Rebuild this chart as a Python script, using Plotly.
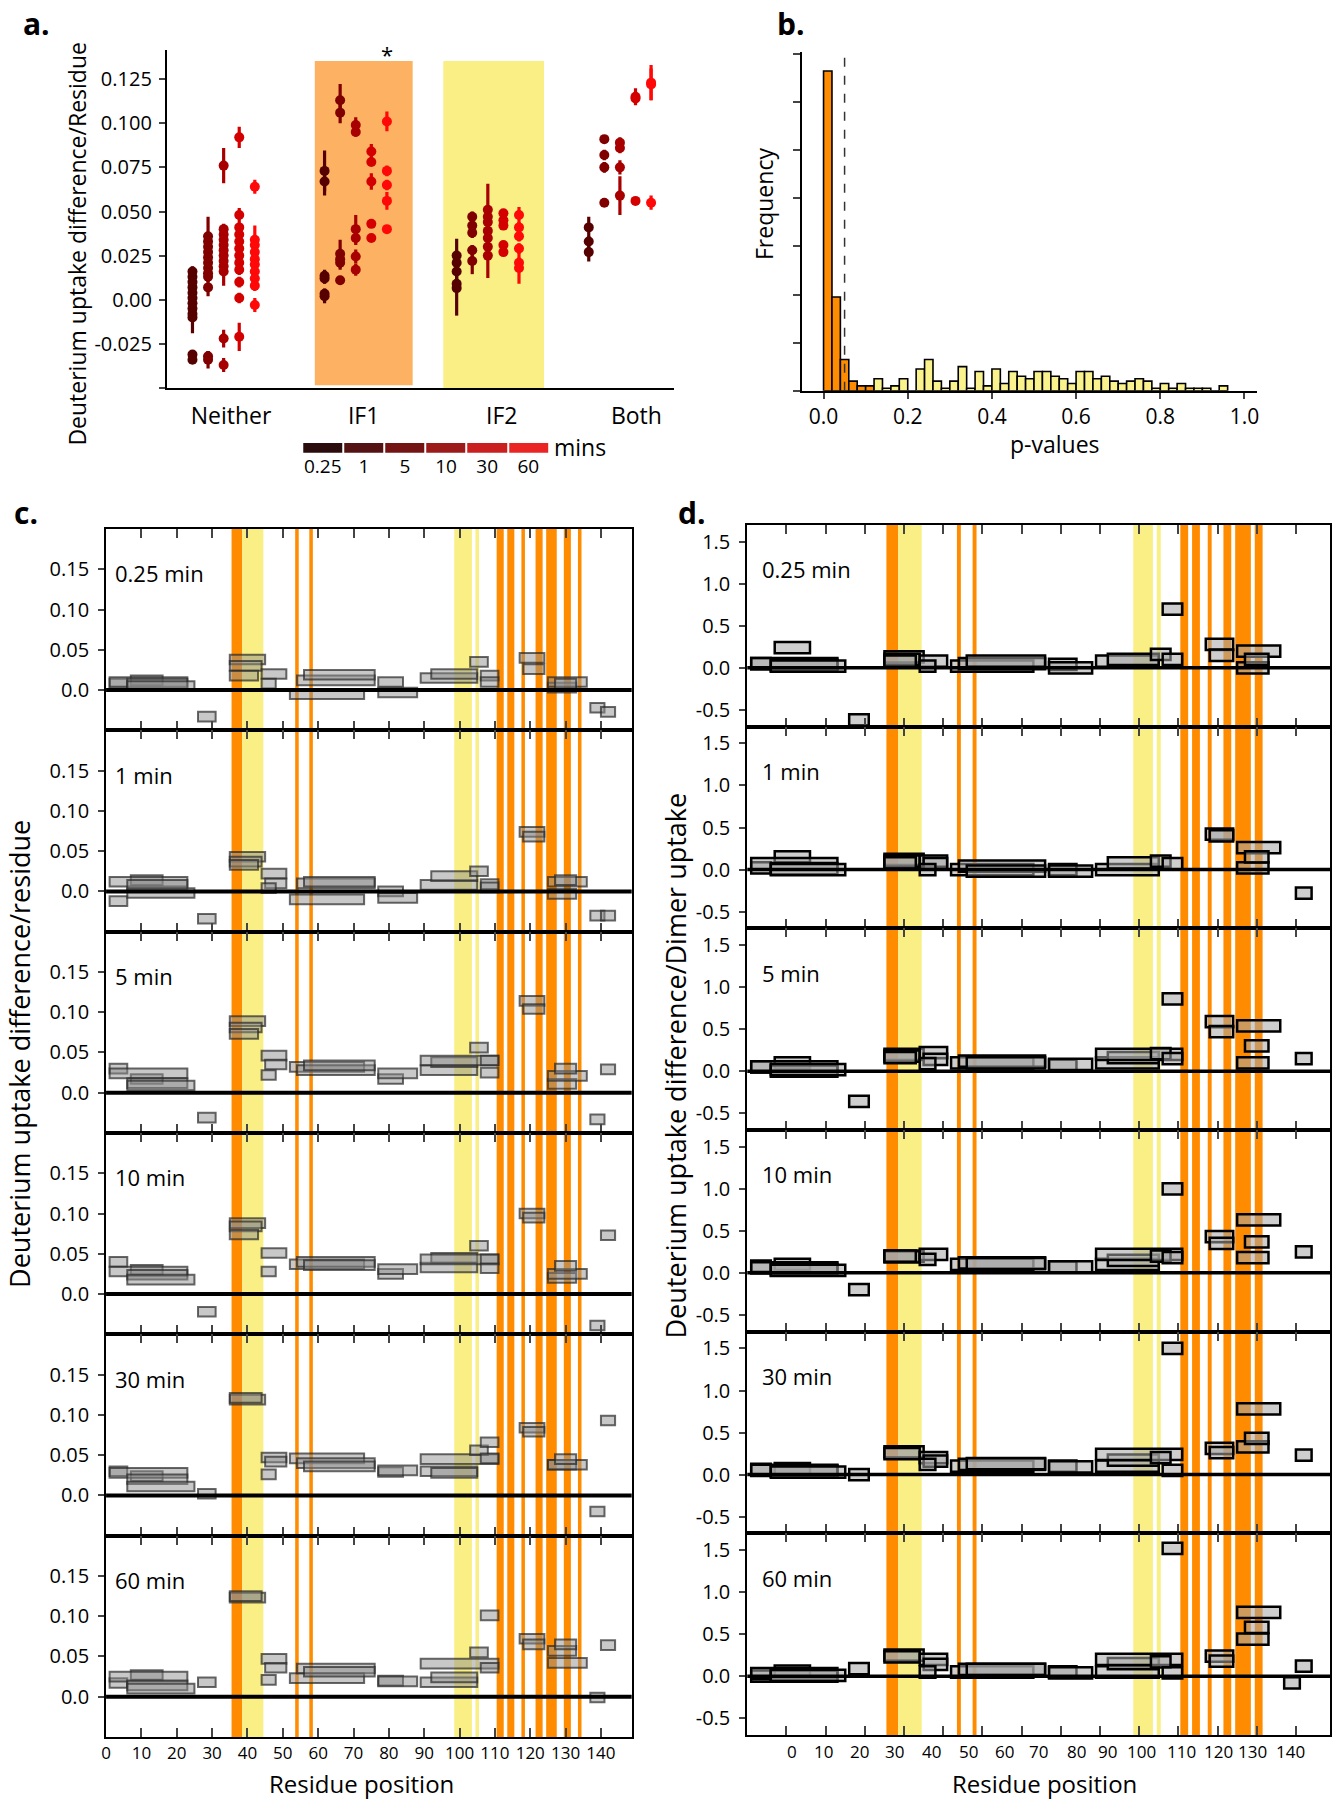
import plotly.graph_objects as go

W, H = 1335, 1800
FONT = "Open Sans"


def fx(px):
    return px / W


def fy(py):
    return 1 - py / H


# ---------------- Panel a data ----------------
categories = ["Neither", "IF1", "IF2", "Both"]
legend_times = ["0.25", "1", "5", "10", "30", "60"]
column_colors = ["#560000", "#800000", "#a80000", "#d40000", "#ff0808"]
legend_colors = ["#2a0c0c", "#551212", "#731313", "#9c1a1a", "#c91f1f", "#ea2323"]

neither_vals = [
    [0.016, 0.013, 0.010, 0.007, 0.004, 0.001, -0.002, -0.005, -0.008, -0.010, -0.031, -0.034],
    [0.036, 0.033, 0.030, 0.027, 0.024, 0.021, 0.018, 0.015, 0.013, 0.007, -0.032, -0.034],
    [0.076, 0.040, 0.037, 0.034, 0.031, 0.028, 0.025, 0.022, 0.019, 0.016, -0.022, -0.037],
    [0.092, 0.048, 0.041, 0.037, 0.033, 0.029, 0.025, 0.021, 0.017, 0.010, 0.001, -0.021],
    [0.064, 0.034, 0.031, 0.027, 0.023, 0.020, 0.016, 0.012, 0.008, -0.003],
]
neither_errs = [
    [0.003, 0.002, 0.002, 0.002, 0.002, 0.002, 0.002, 0.002, 0.003, 0.009, 0.002, 0.002],
    [0.011, 0.003, 0.003, 0.003, 0.003, 0.003, 0.003, 0.003, 0.003, 0.005, 0.003, 0.005],
    [0.010, 0.003, 0.003, 0.003, 0.003, 0.003, 0.003, 0.003, 0.003, 0.008, 0.005, 0.004],
    [0.006, 0.004, 0.003, 0.003, 0.003, 0.003, 0.003, 0.003, 0.003, 0.003, 0.003, 0.008],
    [0.004, 0.008, 0.003, 0.003, 0.003, 0.003, 0.003, 0.003, 0.003, 0.004],
]
if1_vals = [
    [0.073, 0.067, 0.0136, 0.012, 0.0034, 0.002],
    [0.113, 0.106, 0.026, 0.023, 0.021, 0.011],
    [0.099, 0.095, 0.040, 0.035, 0.0245, 0.017],
    [0.084, 0.078, 0.067, 0.043, 0.035],
    [0.101, 0.073, 0.065, 0.056, 0.040],
]
if1_errs = [
    [0.0115, 0.008, 0.0034, 0.003, 0.003, 0.004],
    [0.0093, 0.006, 0.008, 0.004, 0.004, 0.0025],
    [0.0044, 0.0025, 0.008, 0.004, 0.004, 0.0034],
    [0.0043, 0.002, 0.0047, 0.002, 0.002],
    [0.0056, 0.003, 0.003, 0.005, 0.002],
]
if2_vals = [
    [0.025, 0.021, 0.016, 0.009, 0.0066],
    [0.047, 0.042, 0.038, 0.028, 0.022],
    [0.051, 0.047, 0.044, 0.039, 0.035, 0.030, 0.025],
    [0.049, 0.045, 0.042, 0.031, 0.027],
    [0.048, 0.041, 0.036, 0.029, 0.021, 0.018],
]
if2_errs = [
    [0.0095, 0.003, 0.003, 0.004, 0.0156],
    [0.003, 0.003, 0.003, 0.003, 0.0075],
    [0.0147, 0.003, 0.003, 0.003, 0.003, 0.003, 0.0127],
    [0.002, 0.002, 0.002, 0.002, 0.002],
    [0.0045, 0.003, 0.003, 0.003, 0.003, 0.009],
]
both_vals = [
    [0.041, 0.033, 0.027],
    [0.091, 0.082, 0.075, 0.055],
    [0.089, 0.086, 0.075, 0.059],
    [0.115, 0.114, 0.056],
    [0.123, 0.122, 0.055],
]
both_errs = [
    [0.006, 0.003, 0.0053],
    [0.002, 0.003, 0.003, 0.002],
    [0.003, 0.003, 0.004, 0.011],
    [0.0048, 0.003, 0.002],
    [0.010, 0.009, 0.004],
]

# ---------------- Panel b data ----------------
p_bin_left = [round(i * 0.02, 2) for i in range(48)]
p_counts = [133, 39, 13, 4, 2, 2, 5, 1, 2, 5, 0, 9, 13, 4, 1, 4, 10, 1, 8, 2, 9, 3, 8, 6,
            5, 8, 8, 6, 5, 3, 8, 8, 5, 6, 4, 3, 4, 5, 4, 1, 3, 1, 3, 1, 1, 1, 0, 2]
p_orange_below = 0.12
p_cutoff = 0.05

# ---------------- Panels c / d data ----------------
time_names = ["0.25 min", "1 min", "5 min", "10 min", "30 min", "60 min"]
pep_start = [1, 7, 1, 6, 6, 26, 35, 35, 35, 44, 45, 44, 52, 54, 56, 77, 77, 89, 92, 89,
             103, 106, 106, 117, 118, 125, 125, 127, 137, 140]
pep_end = [6, 16, 23, 23, 25, 31, 45, 44, 43, 51, 51, 48, 73, 76, 76, 84, 88, 105, 105, 111,
           108, 111, 111, 124, 124, 133, 136, 133, 141, 144]

c_t025 = [0.008, 0.012, 0.010, 0.008, 0.005, -0.033, 0.038, 0.030, 0.018, 0.020, None, 0.008,
          -0.005, 0.012, 0.019, 0.010, -0.003, 0.015, 0.020, None, 0.035, 0.018, 0.010, 0.040,
          0.026, 0.003, 0.010, 0.008, -0.022, -0.027]
c_t1 = [-0.012, 0.014, 0.012, 0.008, -0.002, -0.034, 0.043, 0.037, 0.033, 0.022, 0.010, 0.004,
        -0.010, 0.010, 0.012, 0.000, -0.008, 0.008, 0.019, None, 0.025, 0.009, 0.005, 0.074,
        0.068, -0.003, 0.012, 0.014, -0.030, -0.030]
c_t5 = [0.030, 0.017, 0.024, 0.012, 0.009, -0.031, 0.089, 0.081, 0.073, 0.046, 0.035, 0.022,
        0.032, 0.028, 0.034, 0.017, 0.024, 0.028, 0.038, 0.040, 0.056, 0.040, 0.025, 0.114,
        0.104, 0.011, 0.021, 0.030, -0.033, 0.029]
c_t10 = [0.040, 0.030, 0.028, 0.024, 0.018, -0.022, 0.088, 0.084, 0.074, 0.051, None, 0.028,
         0.037, 0.040, 0.036, 0.025, 0.031, 0.033, 0.045, 0.043, 0.060, 0.043, 0.032, 0.100,
         0.095, 0.020, 0.025, 0.035, -0.039, 0.073]
c_t30 = [0.030, 0.024, 0.028, 0.020, 0.011, 0.002, 0.119, 0.121, None, 0.047, 0.042, 0.026,
         0.046, 0.040, 0.036, 0.029, 0.031, 0.030, 0.028, 0.045, 0.056, 0.066, 0.046, 0.084,
         0.079, 0.038, 0.038, 0.045, -0.020, 0.093]
c_t60 = [0.017, 0.027, 0.025, 0.014, 0.010, 0.018, 0.123, 0.125, None, 0.047, 0.036, 0.021,
         0.023, 0.035, 0.031, 0.020, 0.019, 0.018, 0.024, 0.041, 0.055, 0.101, 0.036, 0.072,
         0.065, 0.057, 0.042, 0.065, -0.001, 0.064]

d_t025 = [0.05, 0.24, 0.05, 0.03, 0.02, -0.62, 0.13, 0.10, 0.08, 0.08, None, 0.02, 0.02, 0.05,
          0.08, 0.04, 0.0, 0.08, 0.10, None, 0.16, 0.70, 0.10, 0.28, 0.15, 0.0, 0.20, 0.10,
          None, None]
d_t1 = [0.02, 0.15, 0.07, 0.01, 0.0, None, 0.12, 0.10, 0.08, 0.10, 0.07, 0.0, 0.0, 0.04, -0.02,
        0.0, -0.02, 0.0, 0.08, None, 0.10, None, 0.07, 0.42, 0.40, 0.02, 0.26, 0.15, None, -0.28]
d_t5 = [0.05, 0.10, 0.05, 0.0, 0.02, -0.36, 0.20, 0.18, 0.16, 0.22, 0.14, 0.09, 0.10, 0.12,
        0.10, 0.07, 0.08, 0.10, 0.16, 0.20, 0.21, 0.86, 0.15, 0.59, 0.47, 0.10, 0.54, 0.30,
        None, 0.15]
d_t10 = [0.08, 0.10, 0.06, 0.04, 0.03, -0.20, 0.20, 0.19, 0.20, 0.22, None, 0.16, 0.10, 0.12,
         0.11, 0.07, 0.07, 0.10, 0.15, 0.22, 0.20, 1.00, 0.18, 0.43, 0.35, 0.18, 0.63, 0.37,
         None, 0.25]
d_t30 = [0.06, 0.07, 0.05, 0.04, 0.03, 0.0, 0.27, 0.25, None, 0.20, 0.16, 0.12, 0.10, 0.12,
         0.13, 0.10, 0.09, 0.10, 0.17, 0.24, 0.20, 1.50, 0.05, 0.31, 0.26, 0.33, 0.78, 0.43,
         None, 0.23]
d_t60 = [0.0, 0.06, 0.03, 0.0, 0.01, 0.09, 0.25, 0.23, None, 0.20, 0.14, 0.05, 0.05, 0.08, 0.08,
         0.05, 0.04, 0.05, 0.15, 0.20, 0.17, 1.52, 0.04, 0.24, 0.18, 0.44, 0.76, 0.58, -0.08, 0.12]

c_if1_residues = [36, 37, 38, 54, 58, 111, 112, 114, 115, 118, 122, 123, 125, 126, 127, 130, 131, 134]
d_if1_residues = [36, 37, 38, 54, 58, 111, 112, 114, 115, 118, 122, 123, 125, 126, 127, 128, 130, 131]
if2_residues = [39, 40, 41, 42, 43, 44, 99, 100, 101, 102, 103, 105]

c_ticks = [0, 0.05, 0.10, 0.15]
c_ticktext = ["0.0", "0.05", "0.10", "0.15"]
d_ticks = [-0.5, 0, 0.5, 1.0, 1.5]
d_ticktext = ["-0.5", "0.0", "0.5", "1.0", "1.5"]
residue_ticks = list(range(0, 150, 10))
d_label_pos = [11.4, 19.5, 28.7, 37.5, 47.0, 56.5, 65.7, 74.2, 84.0, 92.0, 100.6, 110.8, 120.2, 129.0, 138.6]

ORANGE = "#ff8c00"
YELLOW = "#f9ef85"

fig = go.Figure()
shapes = []
annotations = []

# ================= Panel a =================
a_vals = [neither_vals, if1_vals, if2_vals, both_vals]
a_errs = [neither_errs, if1_errs, if2_errs, both_errs]
col_step = 0.118
for k in range(5):
    xs, ys, es = [], [], []
    for ci in range(4):
        for v, e in zip(a_vals[ci][k], a_errs[ci][k]):
            xs.append(ci + (k - 2) * col_step)
            ys.append(v)
            es.append(e)
    fig.add_trace(go.Scatter(
        x=xs, y=ys, mode="markers", xaxis="x", yaxis="y",
        marker=dict(color=column_colors[k], size=10, line=dict(width=0)),
        error_y=dict(type="data", array=es, color=column_colors[k], thickness=3.2, width=0),
        hoverinfo="skip"))

shapes.append(dict(type="rect", xref="x", yref="y", x0=0.69, x1=1.431, y0=-0.0485, y1=0.1352,
                   fillcolor="#fcb262", line=dict(width=0), layer="below"))
shapes.append(dict(type="rect", xref="x", yref="y", x0=1.663, x1=2.425, y0=-0.05, y1=0.1352,
                   fillcolor=YELLOW, line=dict(width=0), layer="below"))
annotations.append(dict(x=1 + 2 * col_step, y=0.1395, xref="x", yref="y", text="*",
                        showarrow=False, xanchor="center", yanchor="middle",
                        font=dict(size=22, color="black")))

fig.update_layout(
    xaxis=dict(domain=[fx(162.7), fx(673)], range=[-0.43, 3.413], anchor="y",
               tickvals=[0.056, 1.06, 2.105, 3.125], ticktext=categories, ticks="",
               showline=True, linecolor="black", linewidth=2, showgrid=False, zeroline=False,
               tickfont=dict(size=23), ticklabelstandoff=6),
    yaxis=dict(domain=[fy(388), fy(50)], range=[-0.05, 0.1415], anchor="x",
               tickvals=[-0.05, -0.025, 0, 0.025, 0.05, 0.075, 0.1, 0.125],
               ticktext=["", "-0.025", "0.00", "0.025", "0.050", "0.075", "0.100", "0.125"],
               ticks="outside", ticklen=6, tickwidth=1.5, showline=True, linecolor="black",
               linewidth=2, showgrid=False, zeroline=False, tickfont=dict(size=20),
               ticklabelstandoff=3),
)

# time colour legend as heatmap
fig.add_trace(go.Heatmap(z=[[0, 1, 2, 3, 4, 5]], x=[0, 1, 2, 3, 4, 5], y=[0], xaxis="x2", yaxis="y2",
                         colorscale=[[i / 5, c] for i, c in enumerate(legend_colors)], showscale=False,
                         xgap=2, hoverinfo="skip"))
fig.update_layout(
    xaxis2=dict(domain=[fx(298.8), fx(546.7)], range=[-0.5, 5.5], anchor="y2",
                tickvals=[0, 1, 2, 3, 4, 5], ticktext=legend_times, ticks="", showline=False,
                showgrid=False, zeroline=False, tickfont=dict(size=19), ticklabelstandoff=0),
    yaxis2=dict(domain=[fy(452.7), fy(443)], range=[-0.5, 0.5], anchor="x2", visible=False),
)
annotations.append(dict(x=fx(550), y=fy(447), xref="paper", yref="paper", text="mins",
                        showarrow=False, xanchor="left", yanchor="middle", font=dict(size=23)))

# ================= Panel b =================
fig.add_trace(go.Bar(
    x=[b + 0.01 for b in p_bin_left], y=p_counts, width=0.02, xaxis="x3", yaxis="y3",
    marker=dict(color=[ORANGE if b < p_orange_below else "#faf28c" for b in p_bin_left],
                line=dict(color="black", width=1.6)),
    hoverinfo="skip"))
shapes.append(dict(type="line", xref="x3", yref="y3", x0=p_cutoff, x1=p_cutoff, y0=0, y1=141,
                   line=dict(color="#333333", width=1.5, dash="dash"), layer="above"))
fig.update_layout(
    xaxis3=dict(domain=[fx(801.7), fx(1258.7)], range=[-0.05, 1.03], anchor="y3",
                tickvals=[0, 0.2, 0.4, 0.6, 0.8, 1.0], ticktext=["0.0", "0.2", "0.4", "0.6", "0.8", "1.0"],
                ticks="outside", ticklen=6, tickwidth=1.5, showline=True, linecolor="black",
                linewidth=2, showgrid=False, zeroline=False, tickfont=dict(size=21)),
    yaxis3=dict(domain=[fy(390.7), fy(51.7)], range=[0, 141], anchor="x3",
                tickvals=list(range(0, 141, 20)), showticklabels=False,
                ticks="outside", ticklen=7, tickwidth=1.5, showline=True, linecolor="black",
                linewidth=2, showgrid=False, zeroline=False),
)


# ================= Panels c / d =================
def runs(res):
    res = sorted(res)
    out = []
    start = prev = res[0]
    for r in res[1:]:
        if r == prev + 1:
            prev = r
            continue
        out.append((start, prev))
        start = prev = r
    out.append((start, prev))
    return out


def add_peptides(vals, half_h, xa, ya, fill, line_color, lw):
    xs, ws, bs, ys = [], [], [], []
    for s, e, v in zip(pep_start, pep_end, vals):
        if v is None:
            continue
        xs.append((s + e) / 2)
        ws.append(e - s)
        bs.append(v - half_h)
        ys.append(2 * half_h)
    fig.add_trace(go.Bar(x=xs, y=ys, base=bs, width=ws, xaxis=xa, yaxis=ya,
                         marker=dict(color=fill, line=dict(color=line_color, width=lw)),
                         hoverinfo="skip"))


c_series = [c_t025, c_t1, c_t5, c_t10, c_t30, c_t60]
d_series = [d_t025, d_t1, d_t5, d_t10, d_t30, d_t60]

layout_axes = {}
for panel in ("c", "d"):
    for i in range(6):
        if panel == "c":
            n = 4 + i
            top = 529 + i * 201.33
            bot = top + 201.33
            xdom = [fx(101.6), fx(630)]
            yr = [-0.05, 0.2]
            tv, tt = c_ticks, c_ticktext
            series = c_series[i]
            half_h = 0.006
            fill, lcol, lw = "rgba(140,140,140,0.48)", "rgba(40,40,40,0.7)", 2
            if1 = c_if1_residues
            zero_w = 4
            lab_x = 0.014
        else:
            n = 10 + i
            top = 525 + i * 201.67
            bot = top + 201.67
            xdom = [fx(746.2), fx(1332)]
            yr = [-0.7, 1.7]
            tv, tt = d_ticks, d_ticktext
            series = d_series[i]
            half_h = 0.067
            fill, lcol, lw = "rgba(165,165,165,0.55)", "black", 2.5
            if1 = d_if1_residues
            zero_w = 3.5
            lab_x = 0.022
        xa, ya = f"x{n}", f"y{n}"
        show_lbl = (panel == "c" and i == 5)
        layout_axes[f"xaxis{n}"] = dict(
            domain=xdom, range=[0, 148.7], anchor=ya, tickvals=residue_ticks,
            ticktext=[str(t) for t in residue_ticks], showticklabels=show_lbl,
            ticks="inside", ticklen=9, tickwidth=1.5, mirror="ticks", showline=True,
            linecolor="black", linewidth=2, showgrid=False, zeroline=False,
            tickfont=dict(size=17))
        layout_axes[f"yaxis{n}"] = dict(
            domain=[fy(bot), fy(top)], range=yr, anchor=xa, tickvals=tv, ticktext=tt,
            ticks="outside", ticklen=6, tickwidth=1.5, mirror=True, showline=True,
            linecolor="black", linewidth=2, showgrid=False, zeroline=False,
            tickfont=dict(size=20), ticklabelstandoff=5)
        for (r0, r1) in runs(if1):
            shapes.append(dict(type="rect", xref=xa, yref=f"{ya} domain", x0=r0 - 0.5, x1=r1 + 0.5,
                               y0=0, y1=1, fillcolor=ORANGE, line=dict(width=0), layer="below"))
        for (r0, r1) in runs(if2_residues):
            shapes.append(dict(type="rect", xref=xa, yref=f"{ya} domain", x0=r0 - 0.5, x1=r1 + 0.5,
                               y0=0, y1=1, fillcolor=YELLOW, line=dict(width=0), layer="below"))
        shapes.append(dict(type="line", xref=f"{xa} domain", yref=ya, x0=0, x1=1, y0=0, y1=0,
                           line=dict(color="black", width=zero_w), layer="above"))
        add_peptides(series, half_h, xa, ya, fill, lcol, lw)
        annotations.append(dict(x=lab_x, y=0.78, xref=f"{xa} domain", yref=f"{ya} domain",
                                text=time_names[i], showarrow=False, xanchor="left",
                                yanchor="middle", font=dict(size=22)))

fig.update_layout(**layout_axes)

# irregular bottom labels of panel d
for pos, lab in zip(d_label_pos, residue_ticks):
    annotations.append(dict(x=pos, y=0, xref="x15", yref="y15 domain", text=str(lab),
                            showarrow=False, xanchor="center", yanchor="top", yshift=-3,
                            font=dict(size=17)))

# titles and panel letters
paper_texts = [
    dict(x=fx(72), y=fy(244), text="Deuterium uptake difference/Residue", textangle=-90,
         font=dict(size=23)),
    dict(x=fx(763), y=fy(204), text="Frequency", textangle=-90, font=dict(size=23)),
    dict(x=fx(1056), y=fy(444), text="p-values", font=dict(size=23)),
    dict(x=fx(14), y=fy(1054), text="Deuterium uptake difference/residue", textangle=-90,
         font=dict(size=27)),
    dict(x=fx(674), y=fy(1065), text="Deuterium uptake difference/Dimer uptake", textangle=-90,
         font=dict(size=27)),
    dict(x=fx(358), y=fy(1783), text="Residue position", font=dict(size=24)),
    dict(x=fx(1045), y=fy(1783), text="Residue position", font=dict(size=24)),
    dict(x=fx(32), y=fy(23), text="<b>a.</b>", font=dict(size=30)),
    dict(x=fx(790), y=fy(23), text="<b>b.</b>", font=dict(size=30)),
    dict(x=fx(21), y=fy(513), text="<b>c.</b>", font=dict(size=30)),
    dict(x=fx(691), y=fy(513), text="<b>d.</b>", font=dict(size=30)),
]
for ann in paper_texts:
    ann.update(xref="paper", yref="paper", showarrow=False, xanchor="center", yanchor="middle")
annotations += paper_texts

fig.update_layout(
    width=W, height=H, autosize=False,
    margin=dict(l=0, r=0, t=0, b=0),
    paper_bgcolor="white", plot_bgcolor="rgba(0,0,0,0)",
    showlegend=False, barmode="overlay",
    font=dict(family=FONT, color="black"),
    shapes=shapes, annotations=annotations,
)

fig.write_html("out.html", config={"displayModeBar": False},
               post_script="document.body.style.margin='0';document.body.style.overflow='hidden';")
